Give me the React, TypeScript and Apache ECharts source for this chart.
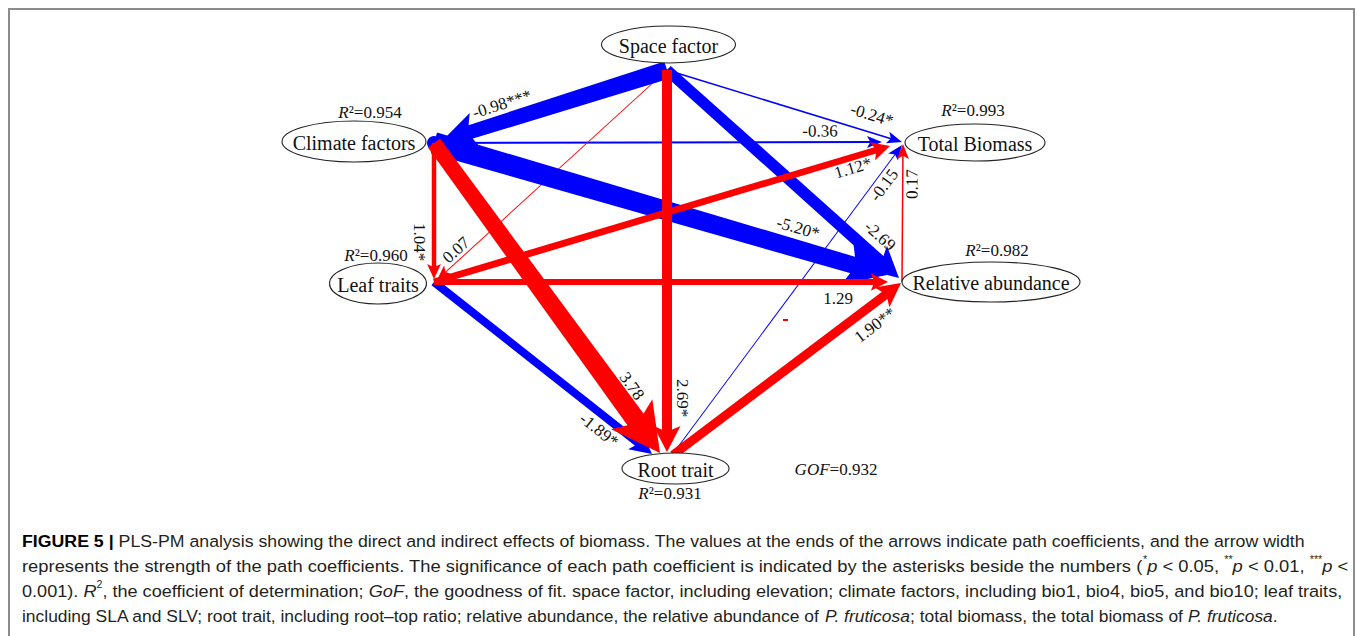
import React, { useEffect, useRef } from "react";
import * as echarts from "echarts";

// ---- model data -------------------------------------------------------
const nodeNames = [
  "Space factor",
  "Climate factors",
  "Total Biomass",
  "Leaf traits",
  "Relative abundance",
  "Root trait",
];
// coefficient of determination per latent variable (exogenous node has none)
const nodeR2 = [NaN, 0.954, 0.993, 0.96, 0.982, 0.931];
const gofValue = 0.932;

// path coefficients (source -> target), drawn in this order
const pathFrom = [0, 1, 5, 0, 4, 0, 1, 0, 3, 3, 3, 5, 0, 1, 1];
const pathTo = [2, 2, 2, 3, 2, 4, 4, 1, 5, 2, 4, 4, 5, 3, 5];
const pathCoef = [
  -0.24, -0.36, -0.15, 0.07, 0.17, -2.69, -5.2, -0.98, -1.89, 1.12, 1.29, 1.9,
  2.69, 1.04, 3.78,
];
const pathSig = ["*", "", "", "", "", "", "*", "***", "*", "*", "", "**", "*", "*", ""];

// ---- diagram layout ----------------------------------------------------
const W = 1357;
const H = 636;
// arrow junction point of every node
const nodeAnchor = [
  [667, 70],
  [434, 143],
  [903, 142],
  [434, 282],
  [902, 282],
  [667, 455],
];
// ellipse centre and radii of every node
const nodeShape = [
  [668.5, 44.5, 67, 18.5],
  [354, 141.5, 72, 20.5],
  [975, 142.5, 70, 18.5],
  [378, 283.5, 48.5, 20.5],
  [991, 282, 89, 20],
  [675.5, 468.5, 53.5, 15.5],
];
const r2Pos = [
  [0, 0],
  [370, 112],
  [973, 110],
  [376, 255],
  [997, 250],
  [670, 493],
];
const gofPos = [836, 469];
const srcShift = [
  [0, 0], [0, 0], [5, 0], [0, 0], [0, 0], [0, 0], [0, 0], [0, 0],
  [0, 0], [0, 0], [0, 0], [6, 0], [0, 0], [0, 0], [0, 0],
];
const tipShift = [
  [-1, 0], [-21, 0], [-1, 3], [3, -2], [0, 2], [-3, -4], [-15, -7], [8, -2],
  [-15, -1], [-13, 4], [-14, 0], [-1, 1], [0, -3], [0, -3], [-7, -2],
];
// stroke width at the start and at the head of each arrow
const pathWidth = [
  [1.5, 1.5], [2, 2], [1, 1], [1, 1], [1.5, 1.5], [11, 12], [22, 17], [18, 14],
  [8, 8], [7, 6.5], [6, 6], [9, 9], [10, 10], [4.5, 4.5], [15, 20],
];
// round blob drawn at the target node of an arrow
const targetDot = [0, 0, 0, 0, 0, 0, 0, 7, 0, 0, 0, 0, 0, 0, 0];
const labelPos = [
  [872, 115], [820, 131], [884, 185], [456, 250], [912, 184], [880, 236],
  [798, 228], [502, 104], [599, 430], [853, 168], [838, 298], [875, 325],
  [682, 398], [419, 242], [632, 386],
];

const SERIF = "Liberation Serif";
const SANS = "Liberation Sans";
const RED = "#ff0000";
const BLUE = "#0000ff";
const INK = "#111111";

const edgeData = pathFrom.map((f, i) => {
  const t = pathTo[i];
  return [
    nodeAnchor[f][0] + srcShift[i][0],
    nodeAnchor[f][1] + srcShift[i][1],
    nodeAnchor[t][0] + tipShift[i][0],
    nodeAnchor[t][1] + tipShift[i][1],
    nodeAnchor[t][0],
    nodeAnchor[t][1],
  ];
});

function headSize(w: number) {
  return { L: Math.max(15, 2.2 * w + 4), HW: Math.max(6, 1.2 * w + 1.5) };
}

function readableAngle(dx: number, dy: number) {
  let a = Math.atan2(dy, dx);
  if (a > Math.PI / 2 + 1e-6) a -= Math.PI;
  if (a < -Math.PI / 2 - 1e-6) a += Math.PI;
  return a;
}

function coefText(i: number) {
  return pathCoef[i].toFixed(2) + pathSig[i];
}

// ---- caption -------------------------------------------------------------
const captionLines = [
  "{b|FIGURE 5 |}{r| PLS-PM analysis showing the direct and indirect effects of biomass. The values at the ends of the arrows indicate path coefficients, and the arrow width}",
  "{r|represents the strength of the path coefficients. The significance of each path coefficient is indicated by the asterisks beside the numbers (}{s|*}{i|p}{r| < 0.05, }{s|**}{i|p}{r| < 0.01, }{s|***}{i|p}{r| <}",
  "{r|0.001). }{i|R}{s|2}{r|, the coefficient of determination; }{i|GoF}{r|, the goodness of fit. space factor, including elevation; climate factors, including bio1, bio4, bio5, and bio10; leaf traits,}",
  "{r|including SLA and SLV; root trait, including root–top ratio; relative abundance, the relative abundance of }{i|P. fruticosa}{r|; total biomass, the total biomass of }{i|P. fruticosa}{r|.}",
];
const captionY = [541, 566, 591, 616];
const captionWidth = [1284, 1326, 1321, 1256];
const CAP_X = 22;
const CAP_SIZE = 17;
const CAP_COLOR = "#231f20";
const capRich: any = {
  r: { fontFamily: SANS, fontSize: CAP_SIZE, fill: CAP_COLOR, lineHeight: 22 },
  b: { fontFamily: SANS, fontSize: CAP_SIZE, fontWeight: "bold", fill: "#000", lineHeight: 22 },
  i: { fontFamily: SANS, fontSize: CAP_SIZE, fontStyle: "italic", fill: CAP_COLOR, lineHeight: 22 },
  s: { fontFamily: SANS, fontSize: 10, fill: CAP_COLOR, lineHeight: 22, verticalAlign: "top" },
};

// natural width of a rich caption line, used to fit it to the column width
function measureRich(line: string): number {
  const ctx = document.createElement("canvas").getContext("2d");
  if (!ctx) return 0;
  const re = /\{([a-z]+)\|([^}]*)\}/g;
  let m: RegExpExecArray | null;
  let w = 0;
  while ((m = re.exec(line))) {
    const st = capRich[m[1]];
    ctx.font = `${st.fontStyle || "normal"} ${st.fontWeight || "normal"} ${st.fontSize}px "${SANS}"`;
    w += ctx.measureText(m[2]).width;
  }
  return w;
}

const serifRich = {
  i: { fontFamily: SERIF, fontSize: 17, fontStyle: "italic", fill: INK },
  n: { fontFamily: SERIF, fontSize: 17, fill: INK },
};

function buildOption(): any {
  const labelItems = nodeR2
    .map((v, k) => ({ v, k }))
    .filter((d) => !isNaN(d.v))
    .map((d) => ({ value: [r2Pos[d.k][0], r2Pos[d.k][1]], text: "{i|R}{n|²=" + d.v.toFixed(3) + "}" }));
  labelItems.push({ value: [gofPos[0], gofPos[1]], text: "{i|GOF}{n|=" + gofValue.toFixed(3) + "}" });

  return {
    animation: false,
    backgroundColor: "#ffffff",
    grid: { left: 0, right: 0, top: 0, bottom: 0 },
    xAxis: { type: "value", min: 0, max: W, show: false },
    yAxis: { type: "value", min: 0, max: H, inverse: true, show: false },
    series: [
      {
        type: "custom",
        name: "paths",
        coordinateSystem: "cartesian2d",
        silent: true,
        clip: false,
        encode: { x: [0, 2], y: [1, 3] },
        data: edgeData,
        renderItem: (params: any, api: any) => {
          const i = params.dataIndex;
          const s = api.coord([api.value(0), api.value(1)]);
          const t = api.coord([api.value(2), api.value(3)]);
          const a = api.coord([api.value(4), api.value(5)]);
          const dx = t[0] - s[0];
          const dy = t[1] - s[1];
          const len = Math.hypot(dx, dy);
          const ux = dx / len;
          const uy = dy / len;
          const nx = -uy;
          const ny = ux;
          const [w0, w1] = pathWidth[i];
          const { L, HW } = headSize(w1);
          const bodyLen = len - 0.7 * L;
          const ex = s[0] + ux * bodyLen;
          const ey = s[1] + uy * bodyLen;
          const color = pathCoef[i] < 0 ? BLUE : RED;
          const body = [
            [s[0] + (nx * w0) / 2, s[1] + (ny * w0) / 2],
            [ex + (nx * w1) / 2, ey + (ny * w1) / 2],
            [ex - (nx * w1) / 2, ey - (ny * w1) / 2],
            [s[0] - (nx * w0) / 2, s[1] - (ny * w0) / 2],
          ];
          const bx = t[0] - ux * L;
          const by = t[1] - uy * L;
          const mx = t[0] - ux * 0.78 * L;
          const my = t[1] - uy * 0.78 * L;
          const head = [
            [t[0], t[1]],
            [bx + nx * HW, by + ny * HW],
            [mx, my],
            [bx - nx * HW, by - ny * HW],
          ];
          const children: any[] = [
            { type: "polygon", shape: { points: body }, style: { fill: color } },
            { type: "polygon", shape: { points: head }, style: { fill: color } },
          ];
          if (targetDot[i] > 0) {
            children.push({
              type: "circle",
              shape: { cx: a[0], cy: a[1], r: targetDot[i] },
              style: { fill: color },
            });
          }
          return { type: "group", children };
        },
      },
      {
        type: "custom",
        name: "nodes",
        coordinateSystem: "cartesian2d",
        silent: true,
        clip: false,
        data: nodeShape.map((n) => [n[0], n[1]]),
        renderItem: (params: any, api: any) => {
          const k = params.dataIndex;
          const c = api.coord([api.value(0), api.value(1)]);
          const r = api.size([nodeShape[k][2], nodeShape[k][3]]);
          return {
            type: "group",
            children: [
              {
                type: "ellipse",
                shape: { cx: c[0], cy: c[1], rx: r[0], ry: r[1] },
                style: { fill: "#ffffff", stroke: "#222", lineWidth: 1.1 },
              },
              {
                type: "text",
                x: c[0],
                y: c[1] + 1,
                style: {
                  text: nodeNames[k],
                  fontFamily: SERIF,
                  fontSize: 20,
                  fill: INK,
                  align: "center",
                  verticalAlign: "middle",
                  textAlign: "center",
                  textVerticalAlign: "middle",
                },
              },
            ],
          };
        },
      },
      {
        type: "custom",
        name: "coefficients",
        coordinateSystem: "cartesian2d",
        silent: true,
        clip: false,
        data: labelPos,
        renderItem: (params: any, api: any) => {
          const i = params.dataIndex;
          const p = api.coord([api.value(0), api.value(1)]);
          const e = edgeData[i];
          const ang = readableAngle(e[2] - e[0], e[3] - e[1]);
          return {
            type: "text",
            x: p[0],
            y: p[1],
            rotation: -ang,
            style: {
              text: coefText(i),
              fontFamily: SERIF,
              fontSize: 17,
              fill: INK,
              align: "center",
              verticalAlign: "middle",
              textAlign: "center",
              textVerticalAlign: "middle",
            },
          };
        },
      },
      {
        type: "custom",
        name: "fit",
        coordinateSystem: "cartesian2d",
        silent: true,
        clip: false,
        data: labelItems.map((d) => d.value),
        renderItem: (params: any, api: any) => {
          const p = api.coord([api.value(0), api.value(1)]);
          return {
            type: "text",
            x: p[0],
            y: p[1],
            style: {
              text: labelItems[params.dataIndex].text,
              rich: serifRich,
              fontFamily: SERIF,
              fontSize: 17,
              fill: INK,
              align: "center",
              verticalAlign: "middle",
              textAlign: "center",
              textVerticalAlign: "middle",
            },
          };
        },
      },
    ],
    graphic: [
      {
        type: "polyline",
        silent: true,
        shape: { points: [[9, H], [9, 9], [1354, 9], [1354, H]] },
        style: { stroke: "#8c8c8c", lineWidth: 2, fill: null },
      },
      {
        type: "rect",
        silent: true,
        shape: { x: 783, y: 319, width: 5, height: 2 },
        style: { fill: RED },
      },
      ...captionLines.map((line, k) => {
        const natural = measureRich(line);
        const sx = natural > 0 ? captionWidth[k] / natural : 1;
        return {
          type: "text",
          silent: true,
          x: CAP_X,
          y: captionY[k],
          scaleX: sx,
          style: {
            text: line,
            rich: capRich,
            fontFamily: SANS,
            fontSize: CAP_SIZE,
            fill: CAP_COLOR,
            align: "left",
            verticalAlign: "middle",
            textAlign: "left",
            textVerticalAlign: "middle",
          },
        };
      }),
    ],
  };
}

export default function App() {
  const ref = useRef<HTMLDivElement>(null);
  useEffect(() => {
    if (!ref.current) return;
    const chart = echarts.init(ref.current, null, { renderer: "svg" });
    chart.setOption(buildOption());
    return () => chart.dispose();
  }, []);
  return (
    <div
      ref={ref}
      style={{ position: "absolute", left: 0, top: 0, width: W, height: H, background: "#fff" }}
    />
  );
}
